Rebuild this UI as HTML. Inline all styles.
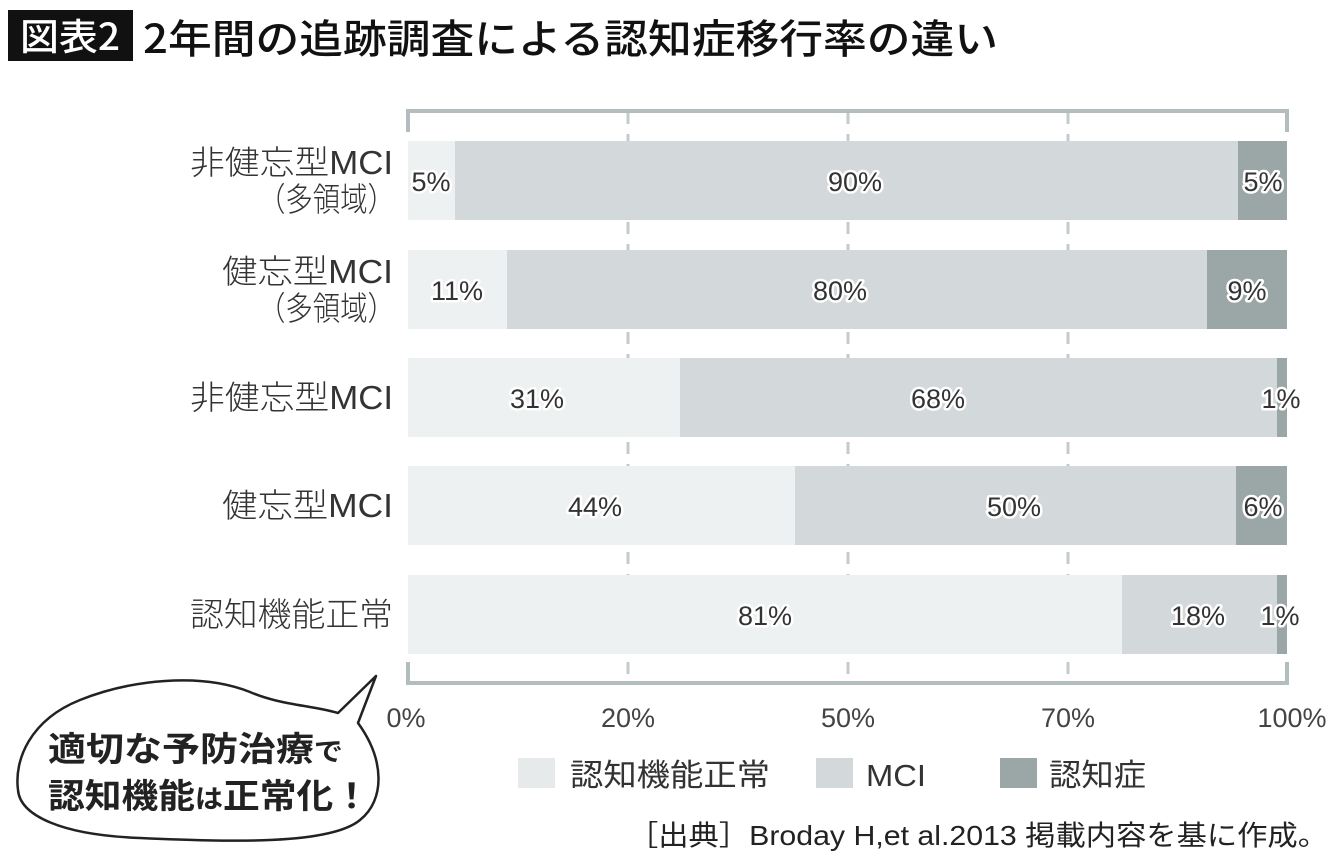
<!DOCTYPE html>
<html><head><meta charset="utf-8"><style>
html,body{margin:0;padding:0;background:#fff;}
svg{display:block;}
text{font-family:"Liberation Sans","Noto Sans CJK JP",sans-serif;}
.j{font-family:"Noto Sans CJK JP","Liberation Sans",sans-serif;}
.v{font-size:27px;fill:#333;stroke:#fff;stroke-width:5px;paint-order:stroke;stroke-linejoin:round;text-anchor:middle;}
.lab{font-size:33px;fill:#333;font-weight:300;}
.tk{font-size:27px;fill:#444;text-anchor:middle;}
</style></head><body>
<svg width="1340" height="863" viewBox="0 0 1340 863" xmlns="http://www.w3.org/2000/svg">
<rect x="8" y="10" width="125" height="51" fill="#111"/>
<text class="j" x="20" y="50" font-size="37" fill="#fff" font-weight="500" textLength="100" lengthAdjust="spacingAndGlyphs">図表2</text>
<text class="j" x="143" y="53" font-size="40" fill="#111" font-weight="500" textLength="855" lengthAdjust="spacingAndGlyphs">2年間の追跡調査による認知症移行率の違い</text>

<g stroke="#c3cbcb" stroke-width="3" stroke-dasharray="12,10">
<line x1="628" y1="112" x2="628" y2="682"/>
<line x1="848" y1="112" x2="848" y2="682"/>
<line x1="1068" y1="112" x2="1068" y2="682"/>
</g>
<g stroke="#b3bdbd" stroke-width="4" fill="none">
<polyline points="408,132 408,111 1287,111 1287,132"/>
<polyline points="408,662 408,683 1287,683 1287,662"/>
</g>

<g>
<rect x="408" y="141" width="47" height="79" fill="#eef1f2"/><rect x="455" y="141" width="783" height="79" fill="#d3d8da"/><rect x="1238" y="141" width="49" height="79" fill="#9ba6a6"/>
<rect x="408" y="250" width="99" height="79" fill="#eef1f2"/><rect x="507" y="250" width="700" height="79" fill="#d3d8da"/><rect x="1207" y="250" width="80" height="79" fill="#9ba6a6"/>
<rect x="408" y="358" width="272" height="79" fill="#eef1f2"/><rect x="680" y="358" width="597" height="79" fill="#d3d8da"/><rect x="1277" y="358" width="10" height="79" fill="#9ba6a6"/>
<rect x="408" y="466" width="387" height="79" fill="#eef1f2"/><rect x="795" y="466" width="441" height="79" fill="#d3d8da"/><rect x="1236" y="466" width="51" height="79" fill="#9ba6a6"/>
<rect x="408" y="575" width="714" height="79" fill="#eef1f2"/><rect x="1122" y="575" width="155" height="79" fill="#d3d8da"/><rect x="1277" y="575" width="10" height="79" fill="#9ba6a6"/>
</g>

<g class="v">
<text x="431" y="191">5%</text><text x="855" y="191">90%</text><text x="1263" y="191">5%</text>
<text x="457" y="300">11%</text><text x="840" y="300">80%</text><text x="1247" y="300">9%</text>
<text x="537" y="408">31%</text><text x="938" y="408">68%</text><text x="1281" y="408">1%</text>
<text x="595" y="516">44%</text><text x="1014" y="516">50%</text><text x="1263" y="516">6%</text>
<text x="765" y="625">81%</text><text x="1198" y="625">18%</text><text x="1280" y="625">1%</text>
</g>

<g class="lab">
<text x="190" y="174" textLength="203" lengthAdjust="spacingAndGlyphs">非健忘型MCI</text>
<text x="258" y="211" textLength="137" lengthAdjust="spacingAndGlyphs">（多領域）</text>
<text x="222" y="283" textLength="171" lengthAdjust="spacingAndGlyphs">健忘型MCI</text>
<text x="258" y="320" textLength="137" lengthAdjust="spacingAndGlyphs">（多領域）</text>
<text x="190" y="409" textLength="203" lengthAdjust="spacingAndGlyphs">非健忘型MCI</text>
<text x="222" y="517" textLength="171" lengthAdjust="spacingAndGlyphs">健忘型MCI</text>
<text x="190" y="626" textLength="203" lengthAdjust="spacingAndGlyphs">認知機能正常</text>
</g>

<g class="tk">
<text x="406" y="727">0%</text><text x="628" y="727">20%</text><text x="848" y="727">50%</text><text x="1068" y="727">70%</text><text x="1292" y="727">100%</text>
</g>

<rect x="518" y="758" width="37" height="30" fill="#e6eaeb"/>
<text x="570" y="786" font-size="31" fill="#333" textLength="200" lengthAdjust="spacingAndGlyphs">認知機能正常</text>
<rect x="816" y="758" width="37" height="30" fill="#d3d8da"/>
<text x="866" y="786" font-size="31" fill="#333" textLength="60" lengthAdjust="spacingAndGlyphs">MCI</text>
<rect x="1000" y="758" width="37" height="30" fill="#9ba6a6"/>
<text x="1049" y="786" font-size="31" fill="#333" textLength="97" lengthAdjust="spacingAndGlyphs">認知症</text>
<text x="628" y="845" font-size="28" fill="#222" textLength="700" lengthAdjust="spacingAndGlyphs">［出典］Broday H,et al.2013 掲載内容を基に作成。</text>

<path d="M338,713 L376,676 L358,723 C385,760 385,800 360,820 C330,845 230,842 140,838 C60,835 20,815 18,790 C14,760 30,720 80,700 C130,680 200,672 250,692 C280,705 310,705 338,713 Z" fill="#fff" stroke="#222" stroke-width="2.5" stroke-linejoin="round"/>
<text class="j" x="48" y="761" font-size="34" font-weight="700" fill="#222" textLength="295" lengthAdjust="spacingAndGlyphs">適切な予防治療<tspan font-size="26">で</tspan></text>
<text class="j" x="48" y="808" font-size="34" font-weight="700" fill="#222" textLength="322" lengthAdjust="spacingAndGlyphs">認知機能<tspan font-size="26">は</tspan>正常化！</text>
</svg>
</body></html>
